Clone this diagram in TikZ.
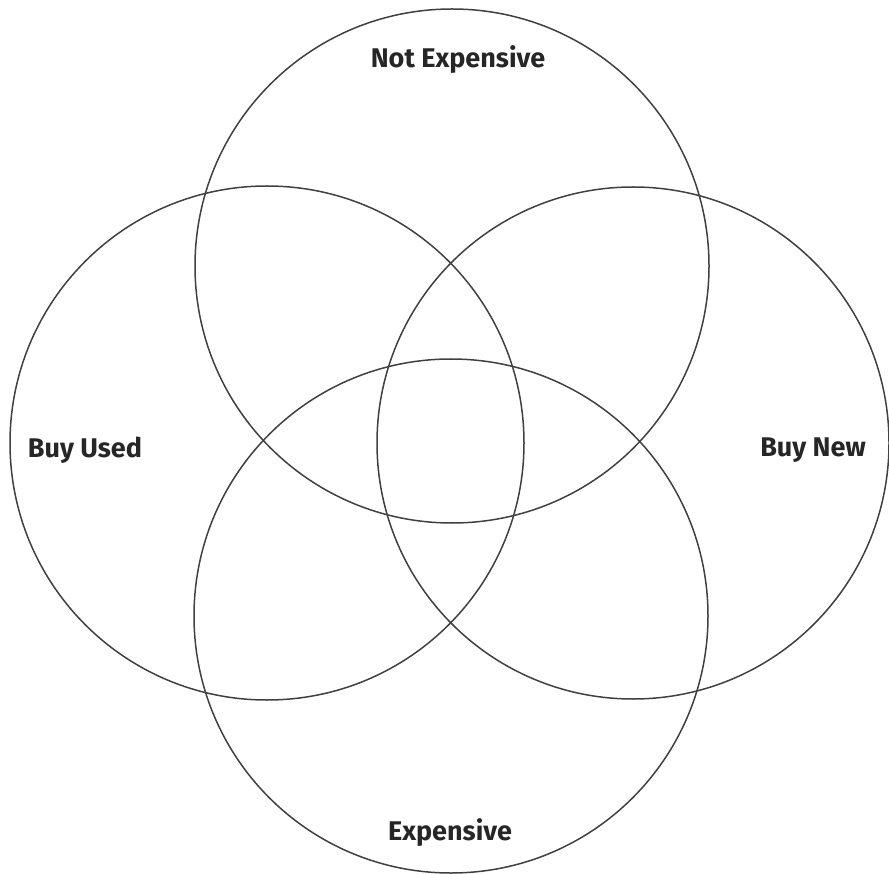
\documentclass[tikz,border=0pt]{standalone}
\usepackage{fontspec}
\setmainfont{Fira Sans}
\begin{document}
\begin{tikzpicture}[x=1pt,y=-1pt,
  ring/.style={draw=black!75,line width=1.5pt},
  lab/.style={font=\fontsize{27}{31}\selectfont\bfseries,text=black!85,inner sep=0pt}]
\useasboundingbox (0,0) rectangle (889,874);
\coordinate (ct) at (452,266);
\coordinate (cl) at (267,443);
\coordinate (cr) at (633,443);
\coordinate (cb) at (451,616);
\draw[ring] (ct) circle[radius=257];
\draw[ring] (cl) circle[radius=257];
\draw[ring] (cr) circle[radius=256];
\draw[ring] (cb) circle[radius=257];
\node[lab] (ne) at (458,60) {Not Expensive};
\node[lab] (bu) at (85,450) {Buy Used};
\node[lab] (bn) at (813,450) {Buy New};
\node[lab] (ex) at (450,833) {Expensive};
\end{tikzpicture}
\end{document}
